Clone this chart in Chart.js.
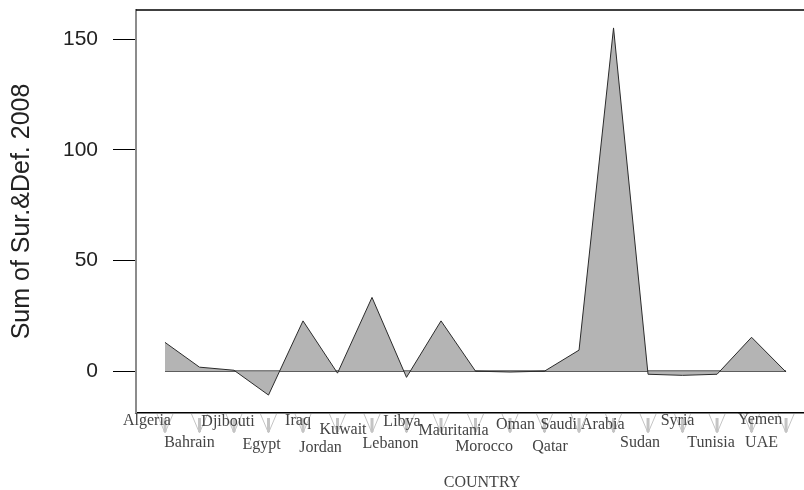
<!DOCTYPE html>
<html>
<head>
<meta charset="utf-8">
<script src="https://cdn.jsdelivr.net/npm/chart.js@4"></script>
<style>
  html, body { margin: 0; padding: 0; background: #fff; }
  #wrap { width: 804px; height: 490px; }
</style>
</head>
<body>
<div id="wrap"><canvas id="myChart" width="804" height="490"></canvas></div>
<script>
const countries = ['Algeria', 'Bahrain', 'Djibouti', 'Egypt', 'Iraq', 'Jordan', 'Kuwait', 'Lebanon', 'Libya', 'Mauritania',
  'Morocco', 'Oman', 'Qatar', 'Saudi Arabia', 'Sudan', 'Syria', 'Tunisia', 'UAE', 'Yemen']
const surDef2008 = [13, 1.8, 0.4, -10.8, 22.7, -0.9, 33.3, -2.8, 22.7, 0, -0.4, 0, 9.5, 155, -1.4, -1.9, -1.4, 15.3, -0.4]
const yTicks = [0, 50, 100, 150]

// where each country name sits relative to its tick (the original is a bit messy)
const labelShiftX = [-18, -10, -6, -7, -5, -17, -29, -16, -39, -22, -26, -29, -29, -31, -8, -5, -6, 10, -26]
const labelShiftY = [8, 30, 9, 32, 8, 35, 17, 31, 9, 18, 34, 12, 34, 12, 30, 8, 30, 30, 7]

let points = countries.map((c, i) => {
  return { x: i, y: surDef2008[i] }
})
let baseline = [{ x: 0, y: 0 }, { x: countries.length - 1, y: 0 }]

const countryAxis = {
  id: 'countryAxis',
  afterDraw(chart) {
    let ctx = chart.ctx
    let area = chart.chartArea
    let xScale = chart.scales.x

    ctx.save()
    // top frame line
    ctx.strokeStyle = '#000'
    ctx.lineWidth = 1.5
    ctx.beginPath()
    ctx.moveTo(area.left, area.top)
    ctx.lineTo(area.right, area.top)
    ctx.stroke()

    // the little grey "V" ticks
    ctx.strokeStyle = '#c4c4c4'
    countries.forEach((c, i) => {
      let px = xScale.getPixelForValue(i)
      let top = area.bottom + 1
      ctx.lineWidth = 1
      ctx.beginPath()
      ctx.moveTo(px - 8, top)
      ctx.lineTo(px, top + 19)
      ctx.lineTo(px + 8, top)
      ctx.stroke()
      ctx.lineWidth = 3
      ctx.beginPath()
      ctx.moveTo(px, top + 4)
      ctx.lineTo(px, top + 18)
      ctx.stroke()
    })

    ctx.fillStyle = '#444'
    ctx.font = '16px "Liberation Serif", "Times New Roman", serif'
    ctx.textAlign = 'center'
    ctx.textBaseline = 'middle'
    countries.forEach((c, i) => {
      let px = xScale.getPixelForValue(i) + labelShiftX[i]
      ctx.fillText(c, px, area.bottom + labelShiftY[i])
    })

    ctx.fillText('COUNTRY', (area.left + area.right) / 2 + 12, area.bottom + 70)
    ctx.restore()
  }
}

const config = {
  type: 'line',
  data: {
    datasets: [{
      label: 'Sum of Sur.&Def. 2008',
      data: points,
      fill: 'origin',
      backgroundColor: '#b4b4b4',
      borderColor: '#2a2a2a',
      borderWidth: 1,
      tension: 0,
      pointRadius: 0
    }, {
      label: 'zero',
      data: baseline,
      fill: false,
      borderColor: '#000',
      borderWidth: 1.2,
      pointRadius: 0
    }]
  },
  options: {
    responsive: false,
    animation: false,
    plugins: {
      legend: { display: false },
      tooltip: { enabled: false }
    },
    layout: { padding: { top: 10 } },
    scales: {
      x: {
        type: 'linear',
        min: -0.84,
        max: 18.52,
        ticks: { display: false },
        grid: { display: false },
        border: { color: '#000', width: 1.5 },
        afterFit(scale) {
          scale.height = 77
          scale.paddingLeft = 0
          scale.paddingRight = 0
        }
      },
      y: {
        min: -18.9,
        max: 163.1,
        afterBuildTicks(scale) {
          scale.ticks = yTicks.map(v => ({ value: v }))
        },
        ticks: {
          color: '#222',
          padding: 15,
          font: { family: '"Liberation Sans", Arial, sans-serif', size: 21 }
        },
        grid: {
          drawOnChartArea: false,
          tickLength: 23,
          color: '#000',
          lineWidth: 1
        },
        border: { color: '#8c8c8c', width: 2 },
        title: {
          display: true,
          text: 'Sum of Sur.&Def. 2008',
          color: '#222',
          padding: { top: 7, bottom: 0 },
          font: { family: '"Liberation Sans", Arial, sans-serif', size: 25, weight: 'normal' }
        },
        afterFit(scale) {
          scale.width = 136
          scale.paddingTop = 0
          scale.paddingBottom = 0
        }
      }
    }
  },
  plugins: [countryAxis]
}

window.myChart = new Chart(document.getElementById('myChart'), config)
</script>
</body>
</html>
